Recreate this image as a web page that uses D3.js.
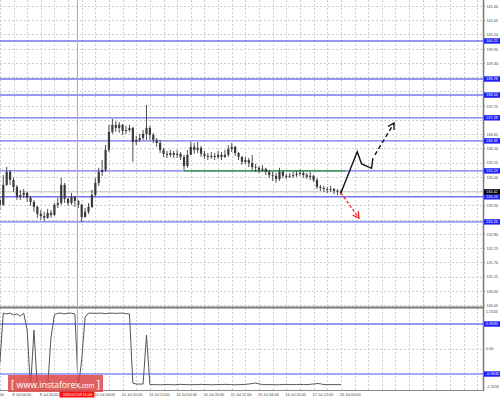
<!DOCTYPE html>
<html>
<head>
<meta charset="utf-8">
<script src="https://cdn.jsdelivr.net/npm/d3@7"></script>
<style>
  body { margin: 0; background: #fff; }
  svg { display: block; font-family: "Liberation Sans", Arial, sans-serif; }
</style>
</head>
<body>
<div id="chart"></div>
<script>
// H2 candles, GBP/JPY, 7-20 Jul
const firstOpen = 134.11;
const closes = [
  133.92,134.69,135.19,134.88,134.61,134.23,134.30,134.38,134.19,134.03,
  133.84,133.57,133.49,133.42,133.61,133.53,133.92,133.99,134.69,134.15,
  133.99,134.23,134.07,133.92,133.45,133.65,133.84,134.30,134.77,135.19,
  135.27,136.04,136.74,137.01,136.89,137.01,136.77,136.81,136.89,136.35,
  136.43,136.50,136.66,136.89,136.62,136.43,136.31,136.04,135.89,135.85,
  135.92,135.85,135.89,135.77,135.42,135.85,136.16,136.04,136.12,135.89,
  135.81,135.77,135.81,135.77,135.85,135.77,135.85,136.08,136.16,135.92,
  135.77,135.58,135.65,135.54,135.38,135.35,135.27,135.31,135.19,135.07,
  135.04,134.92,135.19,135.04,135.00,135.04,135.07,135.11,135.15,135.07,
  135.00,135.04,134.88,134.61,134.57,134.53,134.50,134.53,134.46,134.42,
  134.38
];
const highs = [
  134.23,135.07,135.38,135.27,134.96,134.69,134.50,134.53,134.42,134.26,
  134.11,133.88,133.72,133.65,133.76,133.72,133.99,134.19,134.96,134.77,
  134.19,134.38,134.26,134.11,133.96,133.80,133.99,134.50,134.96,135.35,
  135.65,136.23,137.01,137.24,137.16,137.12,137.04,136.97,137.01,136.93,
  136.58,136.66,136.81,137.78,136.97,136.70,136.50,136.43,136.12,136.00,
  136.04,136.00,136.04,135.96,135.85,136.04,136.35,136.31,136.35,136.19,
  136.00,135.92,135.96,135.92,136.00,135.96,136.04,136.23,136.31,136.20,
  135.96,135.81,135.77,135.73,135.85,135.50,135.42,135.46,135.35,135.27,
  135.19,135.15,135.35,135.23,135.11,135.15,135.19,135.23,135.27,135.23,
  135.15,135.19,135.07,134.96,134.69,134.65,134.61,134.65,134.57,134.53,
  134.50
];
const lows = [
  133.72,133.88,134.65,134.69,134.42,134.11,134.11,134.19,134.03,133.88,
  133.65,133.42,133.34,133.30,133.38,133.42,133.49,133.80,133.92,133.99,
  133.88,133.92,133.84,133.80,133.26,133.42,133.57,133.80,134.23,134.65,
  135.04,135.19,135.96,136.66,136.74,136.70,136.62,136.66,136.74,135.58,
  136.23,136.35,136.43,136.43,136.43,136.31,136.16,135.92,135.77,135.73,
  135.77,135.73,135.73,135.65,135.27,135.35,135.85,135.89,135.92,135.77,
  135.69,135.65,135.69,135.65,135.69,135.65,135.73,135.77,135.96,135.81,
  135.65,135.46,135.50,135.38,135.27,135.19,135.15,135.19,135.07,134.96,
  134.84,134.77,134.84,134.96,134.92,134.96,134.96,135.00,135.04,134.96,
  134.92,134.88,134.80,134.53,134.46,134.42,134.38,134.42,134.34,134.30,
  134.30
];
const oscValues = [
  -0.54,1.38,1.35,1.38,1.31,1.35,1.27,1.38,0.73,-1.50,
  0.73,-1.50,-1.50,-1.50,-1.50,0.46,1.31,1.38,1.38,1.35,
  1.38,1.38,1.35,-1.50,-0.42,1.23,1.38,1.38,1.37,1.38,
  1.38,1.36,1.38,1.38,1.37,1.38,1.38,1.36,1.35,-1.31,
  -1.35,-1.35,-1.35,0.54,-1.37,-1.37,-1.37,-1.38,-1.37,-1.37,
  -1.37,-1.38,-1.37,-1.36,-1.37,-1.37,-1.38,-1.37,-1.37,-1.36,
  -1.37,-1.37,-1.38,-1.37,-1.37,-1.37,-1.36,-1.37,-1.37,-1.38,
  -1.37,-1.37,-1.36,-1.35,-1.33,-1.31,-1.34,-1.37,-1.37,-1.37,
  -1.37,-1.38,-1.37,-1.37,-1.36,-1.37,-1.37,-1.37,-1.36,-1.37,
  -1.37,-1.36,-1.35,-1.33,-1.34,-1.37,-1.37,-1.37,-1.37,-1.37,
  -1.37
];

const priceTicks = [141.60,141.05,140.50,139.95,139.40,138.85,138.30,137.75,137.20,136.65,
  136.10,135.55,135.00,134.45,133.90,133.35,132.80,132.25,131.70,131.15,130.60,130.05];
const levelPrices = [140.25, 138.78, 138.16, 137.28, 136.39, 135.23, 134.23, 133.26];
const bidPrice = 134.42;
const oscTicks = [1.5556, 0, -1.5556];
const oscLevels = [0.963, -0.963];

const labelIndex = [-4, 4, 12, 28, 36, 44, 52, 60, 68, 76, 84, 92, 100];
const timeLabels = ["7 Jul 12:00", "8 Jul 04:00", "8 Jul 20:00", "10 Jul 04:00", "10 Jul 20:00",
  "13 Jul 12:00", "14 Jul 04:00", "14 Jul 20:00", "15 Jul 12:00", "16 Jul 04:00",
  "16 Jul 20:00", "17 Jul 12:00", "20 Jul 04:00"];
const markerIndex = 22.75;
const markerLabel = "2020.07.09 11:00";

// support line + forecast paths: [bar index, price]
const supportLine = [[54, 135.23], [101.5, 135.23]];
const upPathSolid = [[100, 134.38], [104.8, 135.97], [106.1, 135.50], [109.0, 135.33], [109.4, 135.72]];
const upPathDashed = [[110.0, 135.85], [115.6, 137.08]];
const downPath = [[100, 134.38], [105.3, 133.41]];

const width = 500, height = 398;
const plotRight = 483;

const svg = d3.select("#chart").append("svg")
    .attr("width", width)
    .attr("height", height);

const x = d3.scaleLinear().domain([4, 100]).range([13.5, 13.5 + 96 * 3.41]);
const y = d3.scaleLinear().domain([130.05, 141.60]).range([305, 6]);
const yOsc = d3.scaleLinear().domain([-1.5556, 1.5556]).range([389.4, 308.6]);

const defs = svg.append("defs");
defs.append("clipPath").attr("id", "mainClip")
  .append("rect").attr("x", 0).attr("y", 0).attr("width", plotRight).attr("height", 307);
defs.append("clipPath").attr("id", "oscClip")
  .append("rect").attr("x", 0).attr("y", 308).attr("width", plotRight).attr("height", 82);

function arrowMarker(id, color) {
  defs.append("marker")
      .attr("id", id)
      .attr("viewBox", "-8 -5 10 10")
      .attr("refX", 0).attr("refY", 0)
      .attr("markerWidth", 10).attr("markerHeight", 10)
      .attr("markerUnits", "userSpaceOnUse")
      .attr("orient", "auto")
    .append("path")
      .attr("d", "M-6,-3.5 L0,0 L-6,3.5")
      .attr("fill", "none")
      .attr("stroke", color)
      .attr("stroke-width", 1.3);
}
arrowMarker("arrowBlack", "#111");
arrowMarker("arrowRed", "#ee2222");

// grid
const grid = svg.append("g");
grid.selectAll(".vgrid")
  .data(d3.range(-4, 142, 4))
  .enter().append("line")
    .attr("x1", d => Math.round(x(d)) + 0.5).attr("x2", d => Math.round(x(d)) + 0.5)
    .attr("y1", 0).attr("y2", 390)
    .attr("stroke", "#cfcfcf").attr("stroke-dasharray", "2,2");
grid.selectAll(".hgrid")
  .data(priceTicks)
  .enter().append("line")
    .attr("x1", 0).attr("x2", plotRight)
    .attr("y1", d => Math.round(y(d)) + 0.5).attr("y2", d => Math.round(y(d)) + 0.5)
    .attr("stroke", "#cfcfcf").attr("stroke-dasharray", "2,2");
grid.append("line")
    .attr("x1", 0).attr("x2", plotRight)
    .attr("y1", Math.round(yOsc(0)) + 0.5).attr("y2", Math.round(yOsc(0)) + 0.5)
    .attr("stroke", "#cfcfcf").attr("stroke-dasharray", "2,2");

// level lines
const main = svg.append("g").attr("clip-path", "url(#mainClip)");
main.selectAll(".level")
  .data(levelPrices)
  .enter().append("line")
    .attr("x1", 0).attr("x2", plotRight)
    .attr("y1", d => y(d)).attr("y2", d => y(d))
    .attr("stroke", "#7474ee").attr("stroke-width", 1.4);

main.append("line")
    .attr("x1", 0).attr("x2", plotRight)
    .attr("y1", y(bidPrice)).attr("y2", y(bidPrice))
    .attr("stroke", "#c4c4c4").attr("stroke-width", 1);

// support line
const line = d3.line().x(d => x(d[0])).y(d => y(d[1]));
main.append("path")
    .attr("d", line(supportLine))
    .attr("stroke", "#2a9a2a").attr("stroke-width", 1.2).attr("fill", "none");

// candles
const candles = closes.map((c, i) => ({
  i: i,
  open: i === 0 ? firstOpen : closes[i - 1],
  close: c,
  high: highs[i],
  low: lows[i]
}));

const cg = main.append("g");
cg.selectAll(".wick")
  .data(candles)
  .enter().append("line")
    .attr("x1", d => x(d.i)).attr("x2", d => x(d.i))
    .attr("y1", d => y(d.high)).attr("y2", d => y(d.low))
    .attr("stroke", "#3a3a3a").attr("stroke-width", 0.9);
cg.selectAll(".body")
  .data(candles)
  .enter().append("rect")
    .attr("x", d => x(d.i) - 1.1)
    .attr("width", 2.2)
    .attr("y", d => y(Math.max(d.open, d.close)))
    .attr("height", d => Math.max(0.8, Math.abs(y(d.open) - y(d.close))))
    .attr("fill", "#3a3a3a");

// forecast
main.append("path")
    .attr("d", line(upPathSolid))
    .attr("stroke", "#111").attr("stroke-width", 1.4).attr("fill", "none");
main.append("path")
    .attr("d", line(upPathDashed))
    .attr("stroke", "#111").attr("stroke-width", 1.4).attr("fill", "none")
    .attr("stroke-dasharray", "4,3")
    .attr("marker-end", "url(#arrowBlack)");
main.append("path")
    .attr("d", line(downPath))
    .attr("stroke", "#ee2222").attr("stroke-width", 1.3).attr("fill", "none")
    .attr("stroke-dasharray", "3,2")
    .attr("marker-end", "url(#arrowRed)");

// oscillator panel
const osc = svg.append("g").attr("clip-path", "url(#oscClip)");
osc.selectAll(".olevel")
  .data(oscLevels)
  .enter().append("line")
    .attr("x1", 0).attr("x2", plotRight)
    .attr("y1", d => yOsc(d)).attr("y2", d => yOsc(d))
    .attr("stroke", (d, k) => k === 0 ? "#7474ee" : "#a6a6f6")
    .attr("stroke-width", (d, k) => k === 0 ? 1.3 : 2);
osc.append("path")
    .datum(oscValues)
    .attr("d", d3.line().x((d, i) => x(i)).y(d => yOsc(d)))
    .attr("stroke", "#555").attr("stroke-width", 1).attr("fill", "none");

// frame
svg.append("line")
    .attr("x1", 0).attr("x2", plotRight).attr("y1", 307.5).attr("y2", 307.5)
    .attr("stroke", "#7a7a7a").attr("stroke-width", 2);
svg.append("line")
    .attr("x1", 0).attr("x2", plotRight + 1).attr("y1", 390.5).attr("y2", 390.5)
    .attr("stroke", "#8a8a8a").attr("stroke-width", 1);
svg.append("line")
    .attr("x1", plotRight + 0.5).attr("x2", plotRight + 0.5).attr("y1", 0).attr("y2", 391)
    .attr("stroke", "#7a7a7a").attr("stroke-width", 1.5);

// marker line
svg.append("line")
    .attr("x1", x(markerIndex)).attr("x2", x(markerIndex))
    .attr("y1", 0).attr("y2", 391)
    .attr("stroke", "#ff8a8a").attr("stroke-width", 1);

// price axis (ticks hidden where a level label sits on top, as in the terminal)
const fs = 3.8;
const labelYs = levelPrices.concat([bidPrice]).map(v => y(v));
const visibleTicks = priceTicks.filter(t => labelYs.every(ly => Math.abs(y(t) - ly) > 4.5));
const axisG = svg.append("g").attr("transform", `translate(${plotRight},0)`);
axisG.call(d3.axisRight(y).tickValues(visibleTicks).tickSize(2).tickFormat(d3.format(".2f")));
axisG.select(".domain").remove();
axisG.selectAll(".tick line").attr("stroke", "#888");
axisG.selectAll(".tick text")
    .attr("x", 3.5).attr("dy", "0.35em")
    .attr("font-size", fs).attr("font-family", "Liberation Sans, Arial, sans-serif")
    .attr("fill", "#444");

function sideLabel(yPos, text, fill) {
  svg.append("rect")
      .attr("x", plotRight + 1).attr("y", yPos - 2.7)
      .attr("width", width - plotRight - 1).attr("height", 5.4)
      .attr("fill", fill);
  svg.append("text")
      .attr("x", plotRight + 3).attr("y", yPos).attr("dy", "0.35em")
      .attr("font-size", fs).attr("fill", "#fff")
      .text(text);
}
levelPrices.forEach(v => sideLabel(y(v), v.toFixed(2), "#1e1eff"));
sideLabel(y(bidPrice), bidPrice.toFixed(2), "#000");

// oscillator axis
svg.selectAll(".otick")
  .data(oscTicks)
  .enter().append("text")
    .attr("x", plotRight + 3)
    .attr("y", (d, k) => yOsc(d) + (k === 0 ? 3.4 : k === 2 ? -2.6 : 0))
    .attr("dy", "0.35em")
    .attr("font-size", fs).attr("fill", "#444")
    .text(d => d === 0 ? "0.00" : d.toFixed(4));
oscLevels.forEach(v => sideLabel(yOsc(v), v.toFixed(4), "#1e1eff"));

// time axis
svg.selectAll(".tlabel")
  .data(labelIndex)
  .enter().append("text")
    .attr("x", d => x(d) - 1)
    .attr("y", 395.5)
    .attr("font-size", fs).attr("fill", "#444")
    .text((d, k) => timeLabels[k]);

svg.append("rect")
    .attr("x", x(markerIndex) - 18).attr("y", 391)
    .attr("width", 35).attr("height", 6.5)
    .attr("fill", "#ff1010");
svg.append("text")
    .attr("x", x(markerIndex)).attr("y", 395.6)
    .attr("text-anchor", "middle")
    .attr("font-size", fs).attr("fill", "#fff")
    .text(markerLabel);

// watermark
const wm = svg.append("g");
wm.append("rect")
    .attr("x", 8).attr("y", 375).attr("width", 95).attr("height", 17)
    .attr("fill", "#dc4646").attr("opacity", 0.85);
const wmText = wm.append("text")
    .attr("x", 11).attr("y", 387.5)
    .attr("fill", "#fff")
    .attr("font-family", "Open Sans, sans-serif")
    .attr("font-size", 9)
    .attr("textLength", 89).attr("lengthAdjust", "spacing");
wmText.append("tspan").attr("font-size", 10).text("[ ");
wmText.append("tspan").text("www.instaforex");
wmText.append("tspan").attr("font-size", 6.5).text(".com");
wmText.append("tspan").attr("font-size", 10).text(" ]");
</script>
</body>
</html>
